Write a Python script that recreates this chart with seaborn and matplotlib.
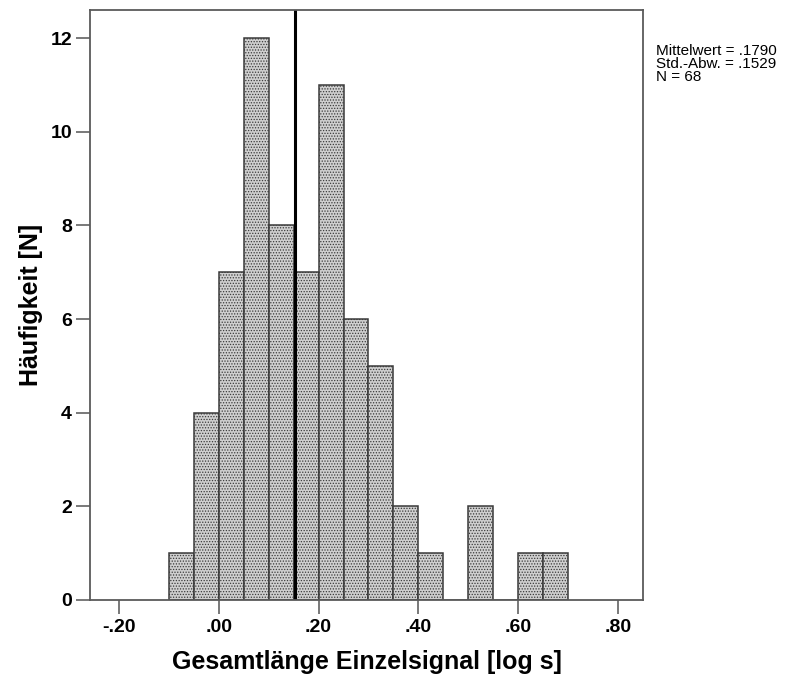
import numpy as np
import pandas as pd
import matplotlib
matplotlib.use("Agg")
import matplotlib.pyplot as plt
import seaborn as sns

# Data
bin_edges = [-0.10, -0.05, 0.00, 0.05, 0.10, 0.15, 0.20, 0.25, 0.30, 0.35,
             0.40, 0.45, 0.50, 0.55, 0.60, 0.65, 0.70]
counts = [1, 4, 7, 12, 8, 7, 11, 6, 5, 2, 1, 0, 2, 0, 1, 1]
ref_line = 0.153
x_ticks = [-0.20, 0.00, 0.20, 0.40, 0.60, 0.80]
x_tick_labels = ["-.20", ".00", ".20", ".40", ".60", ".80"]
y_ticks = [0, 2, 4, 6, 8, 10, 12]
stats_lines = ["Mittelwert = .1790", "Std.-Abw. = .1529", "N = 68"]
x_label = "Gesamtlänge Einzelsignal [log s]"
y_label = "Häufigkeit [N]"

centers = [(a + b) / 2 for a, b in zip(bin_edges[:-1], bin_edges[1:])]
df = pd.DataFrame({"x": centers, "n": counts})

sns.set_style("white")
plt.rcParams["font.family"] = ["Liberation Sans", "DejaVu Sans"]
plt.rcParams["hatch.color"] = "#888888"
plt.rcParams["hatch.linewidth"] = 0.6

W, H = 802, 679
fig = plt.figure(figsize=(W / 100, H / 100), dpi=100)
ax = fig.add_axes([90 / W, (H - 600) / H, 553 / W, 590 / H])

sns.histplot(data=df, x="x", weights="n", bins=bin_edges, ax=ax,
             color="#cfcfcf", edgecolor="#3a3a3a", linewidth=1.1, alpha=1.0,
             hatch="......")

ax.axvline(ref_line, color="black", linewidth=2.2)

ax.set_xlim(-0.258, 0.850)
ax.set_ylim(0, 12.6)
ax.set_xticks(x_ticks)
ax.set_xticklabels(x_tick_labels)
ax.set_yticks(y_ticks)
ax.tick_params(axis="both", which="both", direction="out", length=10, width=1.1,
               color="#555555", labelsize=14, labelcolor="black",
               bottom=True, left=True)
ax.tick_params(axis="x", pad=3.5)
ax.tick_params(axis="y", pad=3)
for lab in ax.get_xticklabels() + ax.get_yticklabels():
    lab.set_fontweight("bold")
for s in ax.spines.values():
    s.set_color("#5a5a5a")
    s.set_linewidth(1.3)

ax.set_xlabel(x_label, fontsize=18, fontweight="bold", color="black", labelpad=10)
ax.set_ylabel(y_label, fontsize=18, fontweight="bold", color="black", labelpad=5)

for i, line in enumerate(stats_lines):
    fig.text(656 / W, 1 - (55 + 13 * i) / H, line, fontsize=11,
             va="baseline", ha="left", color="black")

fig.savefig("out.png", dpi=100)
